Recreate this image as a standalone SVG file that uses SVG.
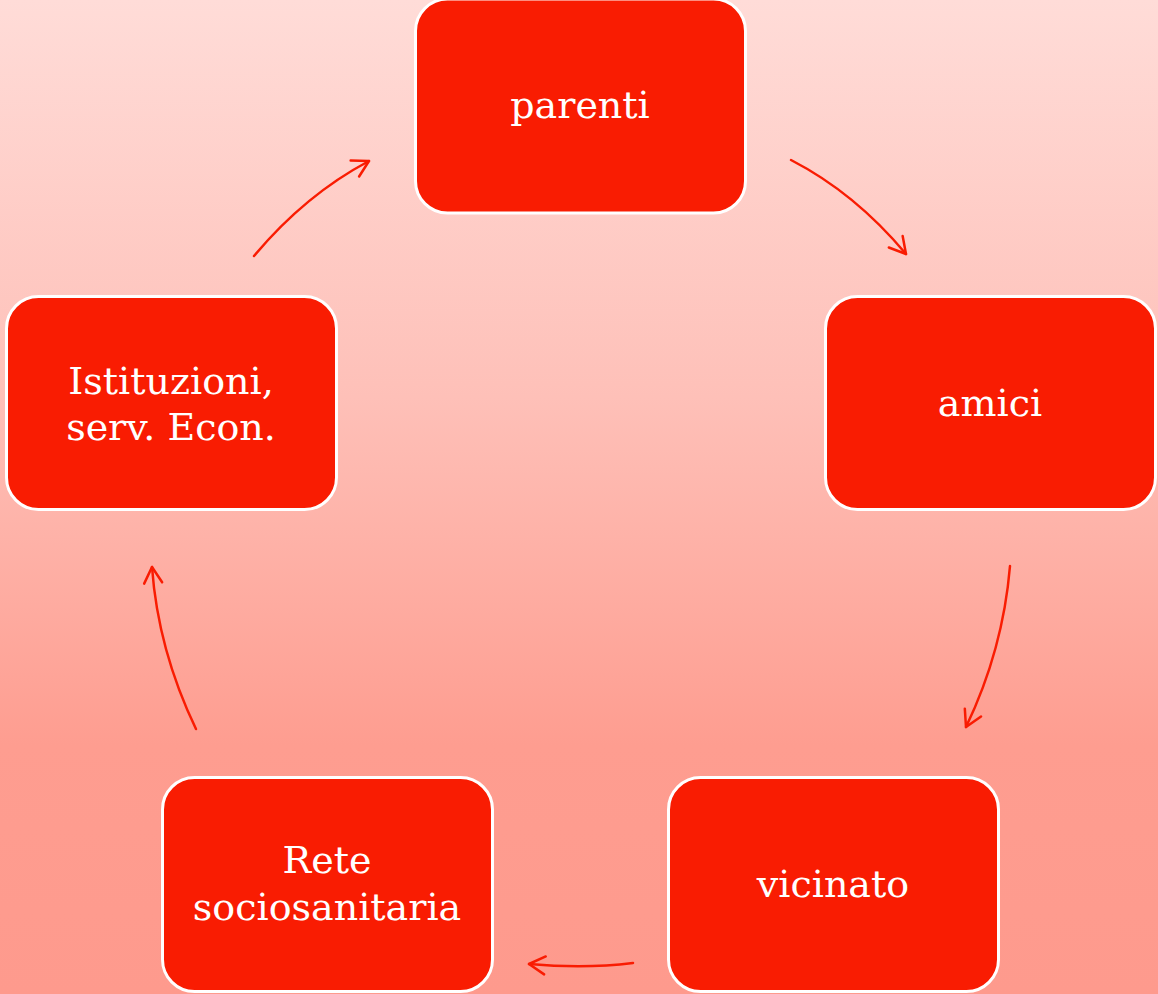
<svg xmlns="http://www.w3.org/2000/svg" width="1158" height="994" viewBox="0 0 1158 994">
<defs>
<linearGradient id="bg" x1="0" y1="0" x2="0" y2="1">
<stop offset="0" stop-color="#FFDCD8"/>
<stop offset="0.4" stop-color="#FEC0B8"/>
<stop offset="0.75" stop-color="#FE9D90"/>
<stop offset="1" stop-color="#FE9A8D"/>
</linearGradient>
<marker id="ah" viewBox="-18 -11 20 22" markerWidth="20" markerHeight="22" refX="0" refY="0" orient="auto" markerUnits="userSpaceOnUse">
<path d="M-16,-9 L0,0 L-16,9" fill="none" stroke="#F91C02" stroke-width="2.5" stroke-linecap="round" stroke-linejoin="round"/>
</marker>
</defs>
<style>
.box{fill:#F91C02;stroke:#FFFFFF;stroke-width:3}
.lbl{fill:#FFFFFF;font-family:"DejaVu Serif","Liberation Serif",serif;font-size:38px;text-anchor:middle}
.con{fill:none;stroke:#F91C02;stroke-width:2.5;stroke-linecap:round;marker-end:url(#ah)}
</style>
<rect width="1158" height="994" fill="url(#bg)"/>
<g id="connectors">
<path class="con" d="M254,256 Q305,195 369,161"/>
<path class="con" d="M791,160 Q855,193 906,254"/>
<path class="con" d="M1010,566 Q1003,650 966,727"/>
<path class="con" d="M633,963 Q585,969 529,964"/>
<path class="con" d="M196,729 Q158,650 152,567"/>
</g>
<g id="node-parenti">
<rect class="box" x="415.5" y="-1" width="330" height="214" rx="32"/>
<text class="lbl" x="580" y="118">parenti</text>
</g>
<g id="node-amici">
<rect class="box" x="825.5" y="296.5" width="330" height="213" rx="32"/>
<text class="lbl" x="990" y="416">amici</text>
</g>
<g id="node-vicinato">
<rect class="box" x="668.5" y="777.5" width="330" height="214" rx="32"/>
<text class="lbl" x="833" y="897">vicinato</text>
</g>
<g id="node-rete">
<rect class="box" x="162.5" y="777.5" width="330" height="214" rx="32"/>
<text class="lbl" x="327" y="873">Rete</text>
<text class="lbl" x="327" y="920">sociosanitaria</text>
</g>
<g id="node-istituzioni">
<rect class="box" x="6.5" y="296.5" width="330" height="213" rx="32"/>
<text class="lbl" x="171" y="394">Istituzioni,</text>
<text class="lbl" x="171" y="440">serv. Econ.</text>
</g>
</svg>
